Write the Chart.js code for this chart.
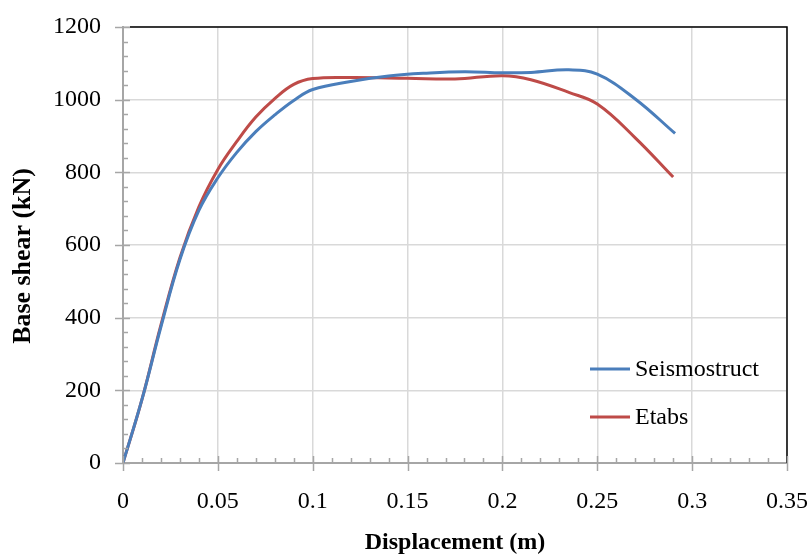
<!DOCTYPE html>
<html>
<head>
<meta charset="utf-8">
<script src="https://cdn.jsdelivr.net/npm/chart.js@4"></script>
<style>
  html, body { margin: 0; padding: 0; background: #fff; }
  #wrap { width: 810px; height: 557px; }
</style>
</head>
<body>
<div id="wrap"><canvas id="pushover" width="810" height="557"></canvas></div>
<script>
// values
const dispSeismo = [0, 0.01, 0.02, 0.03, 0.04, 0.05, 0.06, 0.07, 0.08, 0.09, 0.1, 0.12, 0.14, 0.16, 0.18, 0.2, 0.215, 0.235, 0.25, 0.27, 0.291]
const shearSeismo = [0, 175, 375, 560, 695, 785, 855, 912, 958, 998, 1028, 1050, 1065, 1073, 1077, 1074, 1075, 1082, 1070, 1002, 907]
const dispEtabs = [0, 0.01, 0.02, 0.03, 0.04, 0.05, 0.06, 0.07, 0.08, 0.09, 0.1, 0.12, 0.15, 0.175, 0.2, 0.215, 0.235, 0.25, 0.27, 0.29]
const shearEtabs = [0, 175, 380, 565, 705, 808, 885, 952, 1003, 1042, 1058, 1061, 1059, 1057, 1066, 1055, 1020, 988, 895, 787]
const seriesNames = ['Seismostruct', 'Etabs']
const xTitle = 'Displacement (m)'
const yTitle = 'Base shear (kN)'

const FONT = '"Liberation Serif", "Times New Roman", serif'
const AXIS_GREY = '#a6a6a6'

function toPoints(xs, ys) {
    const pts = []
    for (let i = 0; i < xs.length; i++) pts.push({x: xs[i], y: ys[i]})
    return pts
}

// minor/major tick marks, black frame, y title and legend
const decorations = {
    id: 'decorations',
    afterDatasetsDraw(chart) {
        const ctx = chart.ctx
        const a = chart.chartArea
        const xs = chart.scales.x, ys = chart.scales.y
        ctx.save()
        // black frame top + right
        ctx.strokeStyle = '#000'
        ctx.lineWidth = 1.5
        ctx.beginPath()
        ctx.moveTo(a.left + 7, a.top)
        ctx.lineTo(a.right, a.top)
        ctx.lineTo(a.right, a.bottom)
        ctx.stroke()

        ctx.strokeStyle = AXIS_GREY
        ctx.lineWidth = 1.5
        ctx.beginPath()
        for (let v = 0; v <= 1200 + 1e-6; v += 40) {
            const py = Math.round(ys.getPixelForValue(v)) + 0.5
            const major = Math.abs(v % 200) < 1e-6
            ctx.moveTo(major ? a.left - 8 : a.left, py)
            ctx.lineTo(major ? a.left + 7 : a.left + 5, py)
        }
        for (let i = 0; i <= 35; i++) {
            const px = Math.round(xs.getPixelForValue(i / 100)) + 0.5
            const major = i % 5 === 0
            ctx.moveTo(px, major ? a.bottom - 7 : a.bottom - 5)
            ctx.lineTo(px, major ? a.bottom + 8 : a.bottom)
        }
        ctx.stroke()

        // x title
        ctx.fillStyle = '#000'
        ctx.font = 'bold 24px ' + FONT
        ctx.textAlign = 'center'
        ctx.textBaseline = 'middle'
        ctx.fillText(xTitle, (a.left + a.right) / 2, 543)

        // y title
        ctx.save()
        ctx.translate(23, 256)
        ctx.scale(1.08, 1.08)
        ctx.rotate(-Math.PI / 2)
        ctx.fillText(yTitle, 0, 0)
        ctx.restore()

        // legend
        ctx.font = '24px ' + FONT
        ctx.textAlign = 'left'
        const rows = [369, 417]
        chart.data.datasets.forEach((ds, i) => {
            ctx.strokeStyle = ds.borderColor
            ctx.lineWidth = 3
            ctx.beginPath()
            ctx.moveTo(590, rows[i])
            ctx.lineTo(630, rows[i])
            ctx.stroke()
            ctx.fillText(ds.label, 635, rows[i] + 1)
        })
        ctx.restore()
    }
}

const ctx = document.getElementById('pushover').getContext('2d')
const chart = new Chart(ctx, {
    type: 'line',
    data: {
        datasets: [{
            label: seriesNames[0],
            data: toPoints(dispSeismo, shearSeismo),
            borderColor: '#4a7ebb',
            borderWidth: 3,
            pointRadius: 0,
            tension: 0.4,
            fill: false
        }, {
            label: seriesNames[1],
            data: toPoints(dispEtabs, shearEtabs),
            borderColor: '#be4b48',
            borderWidth: 3,
            pointRadius: 0,
            tension: 0.4,
            fill: false
        }]
    },
    options: {
        responsive: false,
        animation: false,
        layout: { padding: { top: 27, right: 23, left: 0, bottom: 0 } },
        plugins: { legend: { display: false }, tooltip: { enabled: false } },
        scales: {
            x: {
                type: 'linear',
                min: 0, max: 0.35,
                afterFit(s) { s.height = 94; s.paddingLeft = 0; s.paddingRight = 0 },
                border: { color: AXIS_GREY, width: 2 },
                grid: { color: '#d9d9d9', lineWidth: 1.5, drawTicks: false },
                ticks: {
                    stepSize: 0.05,
                    padding: 24,
                    color: '#000',
                    font: { family: FONT, size: 24 },
                    maxRotation: 0,
                    callback: v => String(parseFloat(Number(v).toFixed(2)))
                }
            },
            y: {
                min: 0, max: 1200,
                afterFit(s) { s.width = 123; s.paddingTop = 0; s.paddingBottom = 0 },
                border: { color: AXIS_GREY, width: 2 },
                grid: { color: '#d9d9d9', lineWidth: 1.5, drawTicks: false },
                ticks: {
                    stepSize: 200,
                    padding: 22,
                    color: '#000',
                    font: { family: FONT, size: 24 },
                    callback: v => String(v)
                }
            }
        }
    },
    plugins: [decorations]
})
</script>
</body>
</html>
